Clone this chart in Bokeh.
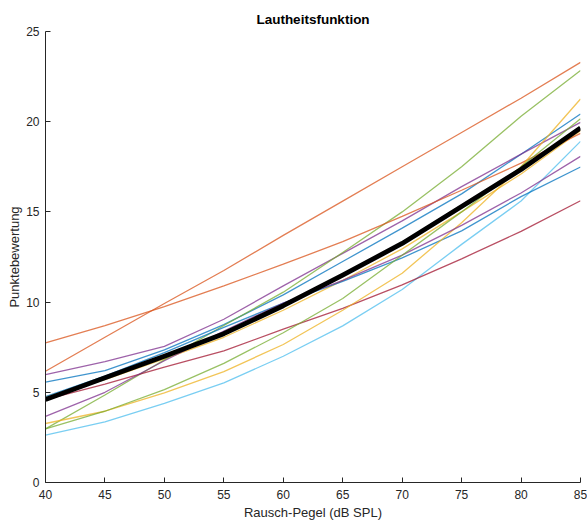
from bokeh.plotting import figure
from bokeh.models import FixedTicker, Range1d
from bokeh.embed import file_html
from bokeh.resources import INLINE

# Noise level (dB SPL)
levels = [40, 45, 50, 55, 60, 65, 70, 75, 80, 85]

# Individual loudness functions (score per level)
blue_1   = [5.56, 6.2, 7.35, 8.75, 10.4, 12.25, 14.1, 16.0, 18.2, 20.43]
red_1    = [6.17, 8.05, 9.92, 11.75, 13.7, 15.6, 17.5, 19.4, 21.3, 23.29]
yellow_1 = [4.75, 5.7, 6.85, 8.05, 9.55, 11.2, 12.95, 15.0, 17.1, 19.5]
purple_1 = [5.98, 6.7, 7.55, 9.05, 10.9, 12.7, 14.5, 16.4, 18.2, 19.96]
green_1  = [2.97, 4.85, 6.8, 8.7, 10.55, 12.75, 15.0, 17.5, 20.3, 22.84]
lblue_1  = [2.62, 3.36, 4.38, 5.52, 7.0, 8.68, 10.7, 13.2, 15.6, 18.91]
dred_1   = [4.6, 5.45, 6.4, 7.3, 8.5, 9.65, 10.95, 12.4, 13.92, 15.62]
blue_2   = [4.76, 5.9, 7.2, 8.6, 9.95, 11.15, 12.45, 13.95, 15.85, 17.49]
red_2    = [7.74, 8.7, 9.75, 10.9, 12.1, 13.35, 14.75, 16.2, 17.7, 19.35]
yellow_2 = [3.27, 3.95, 4.97, 6.15, 7.65, 9.55, 11.6, 14.4, 17.5, 21.26]
purple_2 = [3.67, 5.0, 6.75, 8.4, 9.95, 11.2, 12.6, 14.25, 16.05, 18.08]
green_2  = [2.97, 3.95, 5.15, 6.6, 8.3, 10.2, 12.6, 15.0, 17.5, 20.17]

# Mean loudness function
mean_curve = [4.6, 5.8, 7.0, 8.25, 9.8, 11.5, 13.25, 15.3, 17.35, 19.65]

x_ticks = [40, 45, 50, 55, 60, 65, 70, 75, 80, 85]
y_ticks = [0, 5, 10, 15, 20, 25]

series = [
    (blue_1, "#0072BD"), (red_1, "#D95319"), (yellow_1, "#EDB120"),
    (purple_1, "#7E2F8E"), (green_1, "#77AC30"), (lblue_1, "#4DBEEE"),
    (dred_1, "#A2142F"), (blue_2, "#0072BD"), (red_2, "#D95319"),
    (yellow_2, "#EDB120"), (purple_2, "#7E2F8E"), (green_2, "#77AC30"),
]

FONT = "Liberation Sans"
TXT = "#262626"

p = figure(width=587, height=522, output_backend="svg", toolbar_location=None,
           x_range=Range1d(40, 85), y_range=Range1d(0, 25),
           title="Lautheitsfunktion",
           min_border_left=45, min_border_right=7, min_border_top=31, min_border_bottom=39)

for ys, col in series:
    p.line(levels, ys, line_color=col, line_width=1.3, line_alpha=0.75)

p.line(levels, mean_curve, line_color="black", line_width=4.8, line_join="round")

p.title.align = "center"
p.title.text_font = FONT
p.title.text_font_size = "13.5px"
p.title.text_font_style = "bold"
p.title.text_color = "black"

p.xgrid.visible = False
p.ygrid.visible = False
p.outline_line_color = None

for ax, lab in ((p.xaxis[0], "Rausch-Pegel (dB SPL)"), (p.yaxis[0], "Punktebewertung")):
    ax.axis_label = lab
    ax.axis_label_text_font = FONT
    ax.axis_label_text_font_size = "13px"
    ax.axis_label_text_font_style = "normal"
    ax.axis_label_text_color = TXT
    ax.major_label_text_font = FONT
    ax.major_label_text_font_size = "12px"
    ax.major_label_text_color = TXT
    ax.axis_line_color = TXT
    ax.major_tick_line_color = TXT
    ax.major_tick_in = 5
    ax.major_tick_out = 0
    ax.minor_tick_line_color = None

p.xaxis.axis_label_standoff = 3
p.xaxis.major_label_standoff = 7
p.yaxis.axis_label_standoff = 1
p.yaxis.major_label_standoff = 6

p.xaxis.ticker = FixedTicker(ticks=x_ticks)
p.yaxis.ticker = FixedTicker(ticks=y_ticks)

open("out.html", "w").write(file_html(p, INLINE))
